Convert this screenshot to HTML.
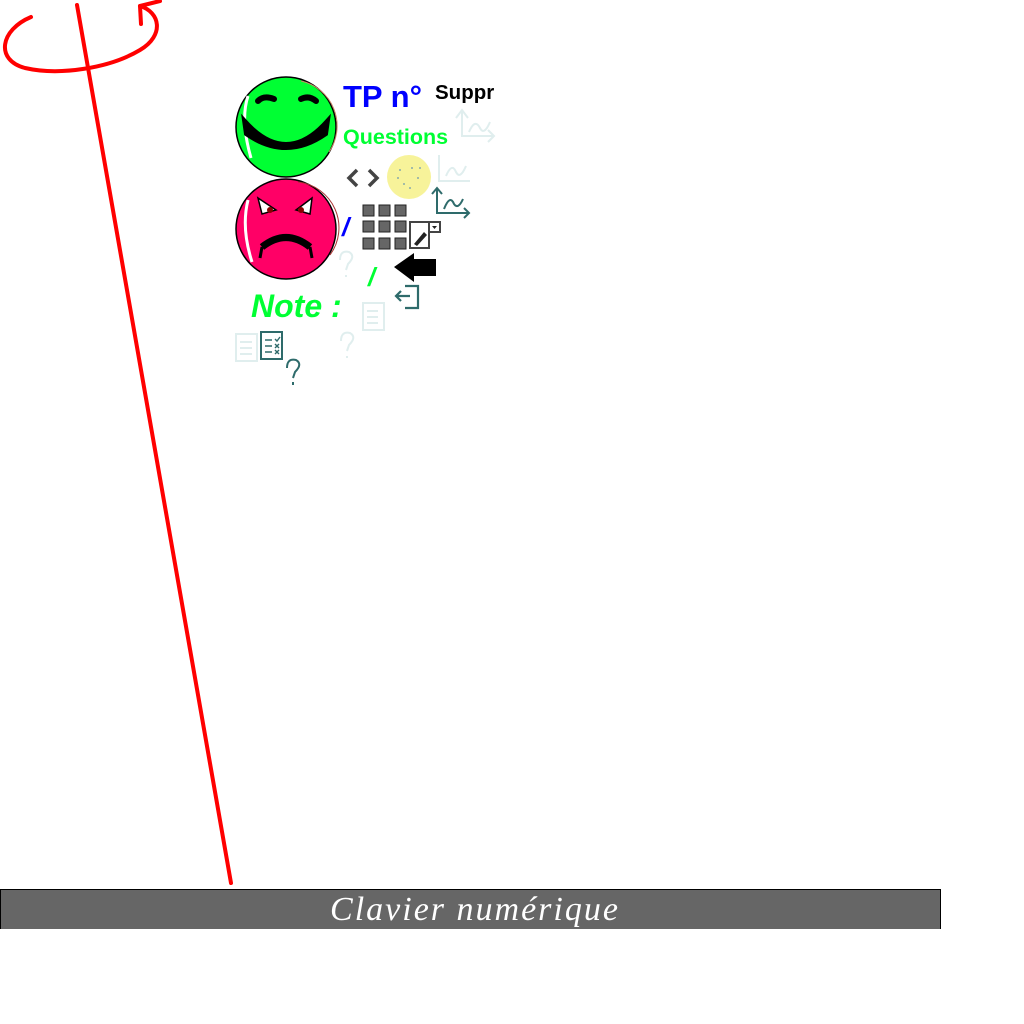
<!DOCTYPE html>
<html><head><meta charset="utf-8"><style>
html,body{margin:0;padding:0;background:#fff;width:1024px;height:1024px;overflow:hidden}
</style></head><body>
<svg width="1024" height="1024" viewBox="0 0 1024 1024" xmlns="http://www.w3.org/2000/svg" font-family="Liberation Sans, sans-serif">
<g fill="none" stroke="#f00" stroke-width="4" stroke-linecap="round">
<path d="M31 17 C0 30 -5 60 25 68 C60 76 110 68 140 50 C165 35 160 12 140 6"/>
<path d="M140 6 L160 1 M140 6 L141 24"/>
<line x1="77" y1="5" x2="231" y2="883"/>
</g>
<circle cx="286" cy="127" r="50" fill="#00ff33" stroke="#000" stroke-width="1.5"/>
<path d="M248 96 Q240 120 251 158" stroke="#fff" stroke-width="3" fill="none"/>
<path d="M301 81 A46 46 0 0 1 329 152" stroke="#c86" stroke-width="1" fill="none"/>
<path d="M258 101 Q264 95 274 99" stroke="#000" stroke-width="6" fill="none" stroke-linecap="round"/>
<path d="M301 99 Q309 95 316 101" stroke="#000" stroke-width="6" fill="none" stroke-linecap="round"/>
<path d="M244 120 Q286 168 328 120 L326 134 Q286 162 246 134 Z" fill="#000" stroke="#000" stroke-width="4"/>
<circle cx="286" cy="229" r="50" fill="#ff0066" stroke="#000" stroke-width="1.5"/>
<path d="M248 200 Q241 228 252 262" stroke="#fff" stroke-width="3" fill="none"/>
<path d="M298 182 A46 46 0 0 1 330 255" stroke="#a33" stroke-width="1" fill="none"/>
<path d="M258 198 L276 210 L262 214 Z" fill="#fff" stroke="#000" stroke-width="1.5"/>
<path d="M312 198 L296 210 L310 214 Z" fill="#fff" stroke="#000" stroke-width="1.5"/>
<circle cx="270" cy="210" r="3" fill="#800"/><circle cx="301" cy="210" r="3" fill="#800"/>
<path d="M262 247 Q286 228 310 247" stroke="#000" stroke-width="7" fill="none"/>
<path d="M262 247 L260 258 M310 247 L312 258" stroke="#000" stroke-width="3"/>
<text x="343" y="107" font-size="31" font-weight="bold" fill="#0000ff">TP n°</text>
<text x="435" y="99" font-size="20.5" font-weight="bold" fill="#000">Suppr</text>
<text x="343" y="144" font-size="21.5" font-weight="bold" fill="#00ff33">Questions</text>
<text x="251" y="317" font-size="32" font-weight="bold" font-style="italic" fill="#00ff33">Note :</text>
<text x="342" y="236" font-size="26" font-weight="bold" font-style="italic" fill="#0000ff">/</text>
<text x="368" y="286" font-size="26" font-weight="bold" font-style="italic" fill="#00ff33">/</text>
<path d="M357 170 L349 178 L357 186 M369 170 L377 178 L369 186" stroke="#444" stroke-width="3.5" fill="none"/>
<circle cx="409" cy="177" r="22" fill="#f7f39a"/>
<g fill="#8aa"><circle cx="400" cy="170" r="1"/><circle cx="412" cy="168" r="1"/><circle cx="418" cy="178" r="1"/><circle cx="404" cy="184" r="1"/><circle cx="410" cy="188" r="1"/><circle cx="398" cy="178" r="1"/><circle cx="420" cy="168" r="1"/></g>
<g fill="none" stroke-width="2">
<g stroke="#e0eeee"><path d="M462 110 V136 H494 M456 118 L462 110 L468 118 M488 130 L494 136 L488 142"/><path d="M469 132 Q475 118 480 128 Q484 136 490 122"/></g>
<g stroke="#e0eeee"><path d="M439 155 V181 H470"/><path d="M446 176 Q452 162 456 172 Q460 180 466 166"/></g>
<g stroke="#2e6b6b"><path d="M437 188 V213 H469 M432 194 L437 188 L442 194 M464 208 L469 213 L464 218"/><path d="M444 209 Q450 194 454 204 Q458 210 463 199"/></g>
</g>
<g fill="#666" stroke="#222" stroke-width="1">
<rect x="363" y="205" width="11" height="11"/><rect x="379" y="205" width="11" height="11"/><rect x="395" y="205" width="11" height="11"/>
<rect x="363" y="221" width="11" height="11"/><rect x="379" y="221" width="11" height="11"/><rect x="395" y="221" width="11" height="11"/>
<rect x="363" y="238" width="11" height="11"/><rect x="379" y="238" width="11" height="11"/><rect x="395" y="238" width="11" height="11"/>
</g>
<rect x="410" y="222" width="19" height="26" fill="#fff" stroke="#444" stroke-width="2"/>
<rect x="429" y="222" width="11" height="10" fill="#fff" stroke="#444" stroke-width="2"/>
<path d="M432 226 L437 226 L434.5 229 Z" fill="#222"/>
<path d="M414 244 L424 232 L427 235 L417 246 Z" fill="#222"/>
<path d="M394 267 L414 253 L414 259 L436 259 L436 276 L414 276 L414 282 Z" fill="#000"/>
<g fill="none" stroke="#2e6b6b" stroke-width="2.2"><path d="M405 286 H418 V308 H405"/><path d="M396 296 H410 M401 291 L396 296 L401 301"/></g>
<g fill="none" stroke="#e0eeee" stroke-width="2">
<rect x="363" y="303" width="21" height="27"/><path d="M367 311 H378 M367 317 H378 M367 323 H378"/>
<rect x="236" y="334" width="21" height="27"/><path d="M240 342 H252 M240 348 H252 M240 354 H252"/>
<path d="M341 341 Q341 331 350 333 Q357 337 349 345 L347 351 M347 356 V358"/>
<path d="M340 260 Q340 250 349 252 Q356 256 348 264 L346 270 M346 275 V277"/>
</g>
<g fill="none" stroke="#2e6b6b" stroke-width="2">
<rect x="261" y="332" width="21" height="27"/><path d="M265 340 H272 M265 346 H272 M265 352 H272 M275 339 L277 341 L280 337 M275 344 L279 348 M279 344 L275 348 M275 350 L279 354 M279 350 L275 354" stroke-width="1.4"/>
<path d="M287 368 Q287 358 296 360 Q303 364 295 372 L293 378 M293 382 V385"/>
</g>
<rect x="0.5" y="889.5" width="940" height="45" fill="#666" stroke="#000" stroke-width="1"/>
<rect x="0" y="929" width="1024" height="95" fill="#fff"/>
<text x="475" y="920" font-size="34" font-style="italic" fill="#fff" text-anchor="middle" letter-spacing="2" font-family="Liberation Serif, serif">Clavier numérique</text>
</svg>
</body></html>
